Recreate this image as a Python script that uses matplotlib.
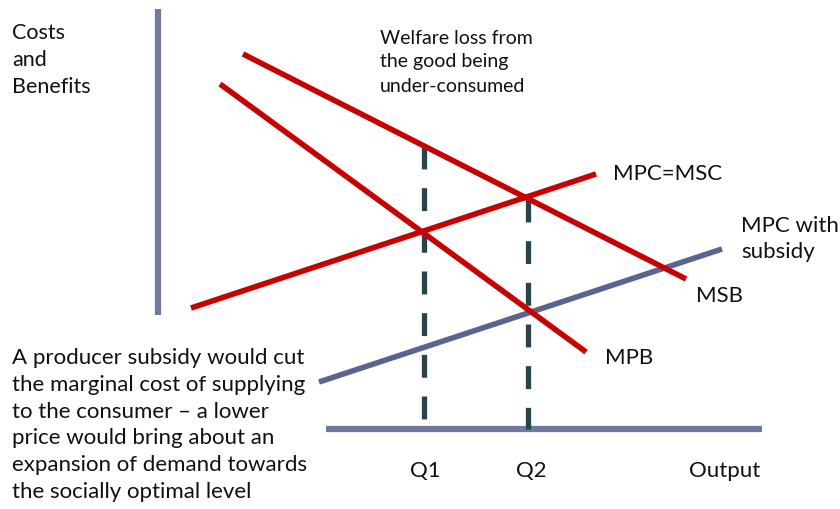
import matplotlib
matplotlib.use("Agg")
import matplotlib.pyplot as plt

plt.rcParams['font.family'] = ['Lato', 'DejaVu Sans']
plt.rcParams['lines.scale_dashes'] = False

# Curve endpoints (diagram coordinates; x = output, y = cost, y grows downward)
msb_x = [243, 686]
msb_y = [55, 280]
mpb_x = [220, 586]
mpb_y = [85, 353]
mpc_x = [191, 596]
mpc_y = [309, 175]
mpc_sub_x = [319, 722]
mpc_sub_y = [383, 250]
vaxis_x = [158, 158]
vaxis_y = [10, 316]
haxis_x = [326, 762]
haxis_y = [430, 430]
q1_x = [424, 424]
q1_y = [147, 421]
q2_x = [528, 528]
q2_y = [200, 430]

red = '#c80000'
axis_col = '#7079a1'
sub_col = '#5b6390'
dash_col = '#29434a'
txt = '#111111'

fig = plt.figure(figsize=(8.4, 5.1), dpi=100)
ax = fig.add_axes([0, 0, 1, 1])
ax.set_xlim(0, 840)
ax.set_ylim(510, 0)
ax.axis('off')

ax.plot(vaxis_x, vaxis_y, color=axis_col, lw=4.5, solid_capstyle='butt')
ax.plot(haxis_x, haxis_y, color=axis_col, lw=4.5, solid_capstyle='butt')

ax.plot(q1_x, q1_y, color=dash_col, lw=3.8, ls=(0, (16.5, 13.5)), dash_capstyle='butt')
ax.plot(q2_x, q2_y, color=dash_col, lw=3.8, ls=(0, (16.5, 13.5)), dash_capstyle='butt')

ax.plot(mpc_sub_x, mpc_sub_y, color=sub_col, lw=4, solid_capstyle='butt')
ax.plot(msb_x, msb_y, color=red, lw=4, solid_capstyle='butt')
ax.plot(mpb_x, mpb_y, color=red, lw=4, solid_capstyle='butt')
ax.plot(mpc_x, mpc_y, color=red, lw=4, solid_capstyle='butt')

fs = 16
ax.text(12, 60, "Costs\nand\nBenefits", fontsize=15.5, color=txt, va='center', ha='left', linespacing=1.45)
ax.text(380, 62, "Welfare loss from\nthe good being\nunder-consumed", fontsize=14, color=txt,
        va='center', ha='left', linespacing=1.5)
ax.text(613, 174, "MPC=MSC", fontsize=fs, color=txt, va='center', ha='left')
ax.text(741, 239, "MPC with\nsubsidy", fontsize=fs, color=txt, va='center', ha='left', linespacing=1.32)
ax.text(696, 296, "MSB", fontsize=fs, color=txt, va='center', ha='left')
ax.text(605, 358, "MPB", fontsize=fs, color=txt, va='center', ha='left')
ax.text(425, 471, "Q1", fontsize=fs, color=txt, va='center', ha='center')
ax.text(531, 471, "Q2", fontsize=fs, color=txt, va='center', ha='center')
ax.text(760, 471, "Output", fontsize=fs, color=txt, va='center', ha='right')
ax.text(12, 425, "A producer subsidy would cut\nthe marginal cost of supplying\nto the consumer \u2013 a lower\n"
        "price would bring about an\nexpansion of demand towards\nthe socially optimal level",
        fontsize=fs, color=txt, va='center', ha='left', linespacing=1.42)

fig.savefig('out.png', dpi=100, facecolor='white')
